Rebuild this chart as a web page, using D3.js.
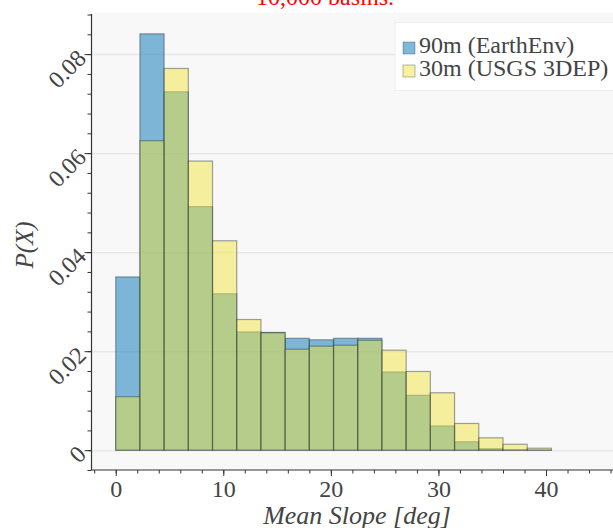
<!DOCTYPE html>
<html>
<head>
<meta charset="utf-8">
<script src="https://cdn.jsdelivr.net/npm/d3@7"></script>
<style>
  body { margin: 0; background: #fff; }
  svg { display: block; font-family: "Liberation Serif", serif; }
</style>
</head>
<body>
<div id="chart"></div>
<script>
// bin left edges (deg) and probability per bin
var binStart = [0, 2.25, 4.5, 6.75, 9, 11.25, 13.5, 15.75, 18, 20.25,
                22.5, 24.75, 27, 29.25, 31.5, 33.75, 36, 38.25, 40.5, 42.75];
var binWidth = 2.25;
var earthEnv = [0.0350, 0.0841, 0.0724, 0.0492, 0.0316, 0.0239, 0.0238, 0.0226, 0.0223, 0.0226,
                0.0226, 0.0158, 0.0111, 0.0049, 0.0017, 0.0003, 0.0001, 0.00005, 0, 0];
var usgs = [0.0108, 0.0625, 0.0771, 0.0584, 0.0423, 0.0264, 0.0237, 0.0204, 0.0210, 0.0212,
            0.0222, 0.0202, 0.0159, 0.0116, 0.0054, 0.0025, 0.0012, 0.0004, 0, 0];
var seriesNames = ["90m (EarthEnv)", "30m (USGS 3DEP)"];
var seriesColors = ["#0072B2", "#F0E442"];
var xTicks = [0, 10, 20, 30, 40];
var yTicks = [0, 0.02, 0.04, 0.06, 0.08];

var W = 613, H = 528;
var plot = { left: 91.5, top: 13, right: 624, bottom: 470 };

var svg = d3.select("#chart").append("svg")
    .attr("width", W)
    .attr("height", H);

// scales
var x = d3.scaleLinear().domain([-2.25, 47.25]).range([plot.left, plot.right]);
var y = d3.scaleLinear().domain([-0.004, 0.088]).range([plot.bottom, 14.5]);

// plot background
svg.append("rect")
    .attr("x", plot.left)
    .attr("y", plot.top)
    .attr("width", plot.right - plot.left)
    .attr("height", plot.bottom - plot.top)
    .attr("fill", "#f8f8f8");

// horizontal gridlines
svg.append("g")
    .attr("transform", "translate(" + plot.left + ",0)")
    .call(d3.axisRight(y).tickValues(yTicks).tickSize(plot.right - plot.left).tickFormat(""))
    .call(function (g) { g.select(".domain").remove(); })
    .selectAll("line")
    .attr("stroke", "#e8e8e8")
    .attr("stroke-width", 1.5);

// bars: blue first, yellow on top, both half transparent
var series = [earthEnv, usgs];
series.forEach(function (vals, k) {
    svg.append("g")
        .selectAll("rect")
        .data(vals)
        .enter()
        .append("rect")
        .attr("x", function (d, i) { return x(binStart[i]); })
        .attr("width", function (d, i) { return x(binStart[i] + binWidth) - x(binStart[i]); })
        .attr("y", function (d) { return y(d); })
        .attr("height", function (d) { return y(0) - y(d); })
        .attr("fill", seriesColors[k])
        .attr("fill-opacity", 0.5)
        .attr("stroke", "#2b3a4a")
        .attr("stroke-opacity", 0.45)
        .attr("stroke-width", 1.2);
});

// x axis
var xAxis = svg.append("g")
    .attr("transform", "translate(0," + plot.bottom + ")");
xAxis.call(d3.axisBottom(x).tickValues(d3.range(-2, 47, 2)).tickSize(3.5).tickFormat(""))
    .call(function (g) { g.select(".domain").remove(); });
xAxis.append("g")
    .call(d3.axisBottom(x).tickValues(xTicks).tickSize(6).tickPadding(4).tickFormat(d3.format("d")))
    .call(function (g) { g.select(".domain").remove(); })
    .selectAll("text")
    .attr("font-family", "Liberation Serif, serif")
    .attr("font-size", 24)
    .attr("fill", "#444");
xAxis.selectAll("line").attr("stroke", "#333");
xAxis.append("line")
    .attr("x1", plot.left).attr("x2", plot.right)
    .attr("stroke", "#333").attr("stroke-width", 1.2);

// y axis
var yAxis = svg.append("g")
    .attr("transform", "translate(" + plot.left + ",0)");
yAxis.call(d3.axisLeft(y).tickValues(d3.range(-0.004, 0.0885, 0.004)).tickSize(4).tickFormat(""))
    .call(function (g) { g.select(".domain").remove(); });
yAxis.append("g")
    .call(d3.axisLeft(y).tickValues(yTicks).tickSize(7).tickFormat(function (d) { return d === 0 ? "0" : d3.format(".2f")(d); }))
    .call(function (g) { g.select(".domain").remove(); })
    .selectAll("text")
    .attr("font-family", "Liberation Serif, serif")
    .attr("font-size", 24)
    .attr("fill", "#444")
    .attr("x", -9)
    .attr("dy", "0.3em")
    .attr("transform", "rotate(-45,-9,0)");
yAxis.selectAll("line").attr("stroke", "#333");
yAxis.append("line")
    .attr("y1", 14).attr("y2", plot.bottom)
    .attr("stroke", "#333").attr("stroke-width", 1.2);

// axis titles
svg.append("text")
    .attr("text-anchor", "middle")
    .attr("x", 357)
    .attr("y", 524)
    .attr("font-size", 26)
    .attr("font-style", "italic")
    .attr("fill", "#444")
    .text("Mean Slope [deg]");

svg.append("text")
    .attr("text-anchor", "middle")
    .attr("transform", "translate(33,245) rotate(-90)")
    .attr("font-size", 25)
    .attr("font-style", "italic")
    .attr("fill", "#444")
    .text("P(X)");

// title (top clipped)
svg.append("text")
    .attr("text-anchor", "middle")
    .attr("x", 325)
    .attr("y", 5)
    .attr("font-size", 24)
    .attr("fill", "red")
    .text("10,000 basins.");

// legend
var legend = svg.append("g");
legend.append("rect")
    .attr("x", 395).attr("y", 22.5)
    .attr("width", 240).attr("height", 68)
    .attr("fill", "white")
    .attr("stroke", "#eee");
seriesNames.forEach(function (name, k) {
    var ly = 53 + k * 23;
    legend.append("rect")
        .attr("x", 403).attr("y", ly - 11)
        .attr("width", 12).attr("height", 12)
        .attr("fill", seriesColors[k])
        .attr("fill-opacity", 0.5)
        .attr("stroke", "#2b3a4a")
        .attr("stroke-opacity", 0.35);
    legend.append("text")
        .attr("x", 419).attr("y", ly)
        .attr("font-size", 24)
        .attr("fill", "#444")
        .text(name);
});
</script>
</body>
</html>
